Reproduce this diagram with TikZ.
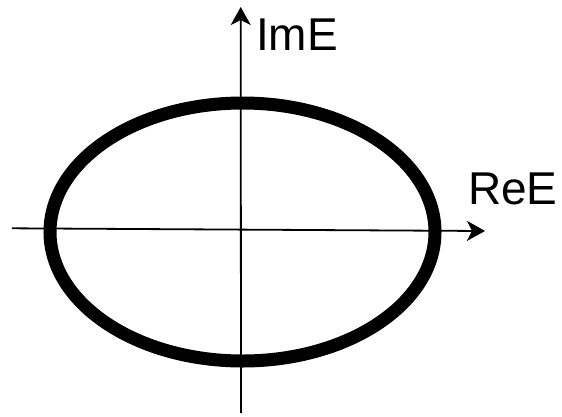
\documentclass[tikz,border=0pt]{standalone}
\usepackage{fontspec}
\setmainfont{Liberation Sans}
\usetikzlibrary{arrows.meta}
\begin{document}
\begin{tikzpicture}[x=1pt,y=-1pt,
  axis/.style={line width=1.8pt,-{Stealth[length=18pt,width=20pt,inset=5pt]}},
  curve/.style={line width=13pt},
  lbl/.style={font=\fontsize{46}{46}\selectfont,inner sep=0pt}]
\useasboundingbox (0,0) rectangle (562,416);
\coordinate (xs) at (12,228.3);
\coordinate (xe) at (485,231);
\coordinate (ys) at (241,413);
\coordinate (ye) at (240.7,7);
\draw[axis] (xs) -- (xe);
\draw[axis] (ys) -- (ye);
\draw[curve] (242.5,232) ellipse [x radius=192.5, y radius=129];
\node[lbl,anchor=base west] (im) at (256,50) {ImE};
\node[lbl,anchor=base west] (re) at (468,204) {ReE};
\end{tikzpicture}
\end{document}
